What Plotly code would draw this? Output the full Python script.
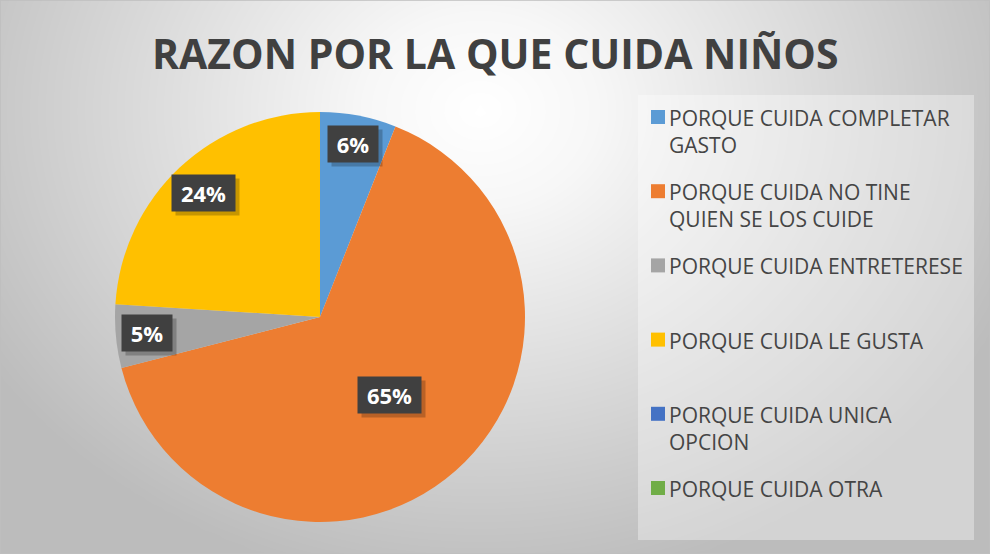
import numpy as np
import plotly.graph_objects as go

W, H = 990, 554

# ---- data ----
labels = ["PORQUE CUIDA COMPLETAR GASTO", "PORQUE CUIDA NO TINE QUIEN SE LOS CUIDE",
          "PORQUE CUIDA ENTRETERESE", "PORQUE CUIDA LE GUSTA",
          "PORQUE CUIDA UNICA OPCION", "PORQUE CUIDA OTRA"]
legend_text = ["PORQUE CUIDA COMPLETAR<br>GASTO", "PORQUE CUIDA NO TINE<br>QUIEN SE LOS CUIDE",
               "PORQUE CUIDA ENTRETERESE", "PORQUE CUIDA LE GUSTA",
               "PORQUE CUIDA UNICA<br>OPCION", "PORQUE CUIDA OTRA"]
values = [6, 65, 5, 24, 0, 0]
colors = ["#5B9BD5", "#ED7D31", "#A5A5A5", "#FFC000", "#4472C4", "#70AD47"]
title = "RAZON POR LA QUE CUIDA NIÑOS"

# ---- styling / layout parameters ----
cx, cy, R = 320, 317, 205          # pie centre / radius in pixels
label_r = [0.86, 0.51, 0.85, 0.83, 0.8, 0.8]   # radial position of data labels

dom_x = [(cx - R) / W, (cx + R) / W]
dom_y = [1 - (cy + R) / H, 1 - (cy - R) / H]

fig = go.Figure()

# background radial gradient
gx = np.linspace(0, W, 100)
gy = np.linspace(0, H, 60)
X, Y = np.meshgrid(gx, gy)
d = np.sqrt(((X - 480) / 580) ** 2 + ((Y - 110) / 480) ** 2)
d = np.clip(d, 0, 1)
fig.add_trace(go.Heatmap(x=gx, y=gy, z=d, zmin=0, zmax=1, zsmooth="best",
                         colorscale=[[0, "#ffffff"], [0.2, "#f7f7f7"], [1, "#bcbcbc"]],
                         showscale=False, hoverinfo="skip"))

fig.add_trace(go.Pie(labels=labels, values=values, sort=False, direction="clockwise",
                     rotation=0, marker=dict(colors=colors, line=dict(width=0)),
                     textinfo="none", showlegend=False, hoverinfo="label+percent",
                     domain=dict(x=dom_x, y=dom_y)))

annotations = []
shapes = []

# data labels positioned from the values
total = sum(values)
cum = 0
for v, fr in zip(values, label_r):
    if v > 0:
        mid = (cum + v / 2) / total * 2 * np.pi
        px = cx + fr * R * np.sin(mid)
        py = cy - fr * R * np.cos(mid)
        pct = round(v / total * 100)
        txt = f"{pct}%"
        bw = 13 * len(txt) + 24
        # shadow
        annotations.append(dict(
            x=(px + 4) / W, y=1 - (py + 4) / H, xref="paper", yref="paper", showarrow=False,
            text=" ", width=bw, height=36, bgcolor="rgba(0,0,0,0.22)", borderpad=0,
            xanchor="center", yanchor="middle"))
        annotations.append(dict(
            x=px / W, y=1 - py / H, xref="paper", yref="paper", showarrow=False,
            text=f"<b>{txt}</b>", font=dict(family="Open Sans", size=22, color="white"),
            width=bw, height=36, bgcolor="#404040", borderpad=0,
            xanchor="center", yanchor="middle", align="center", valign="middle"))
    cum += v

# title
annotations.append(dict(x=0.5, y=1 - 53 / H, xref="paper", yref="paper", showarrow=False,
                        text=f"<b>{title}</b>", xanchor="center", yanchor="middle",
                        font=dict(family="Open Sans", size=41, color="#404040")))

# legend box
lx0, lx1, ly0, ly1 = 638, 974, 95, 540
shapes.append(dict(type="rect", xref="paper", yref="paper",
                   x0=lx0 / W, x1=lx1 / W, y0=1 - ly1 / H, y1=1 - ly0 / H,
                   fillcolor="rgba(255,255,255,0.35)", line=dict(width=0), layer="above"))
row0, step = 117, 74.2
for i, (t, c) in enumerate(zip(legend_text, colors)):
    ry = row0 + i * step
    shapes.append(dict(type="rect", xref="paper", yref="paper",
                       x0=651 / W, x1=665 / W, y0=1 - (ry + 7) / H, y1=1 - (ry - 7) / H,
                       fillcolor=c, line=dict(width=0), layer="above"))
    annotations.append(dict(x=667 / W, y=1 - (ry - 15) / H, xref="paper", yref="paper",
                            showarrow=False, text=t, xanchor="left", yanchor="top", align="left",
                            font=dict(family="Open Sans", size=21, color="#454545")))

# outer border
shapes.append(dict(type="rect", xref="paper", yref="paper", x0=0, x1=1, y0=0, y1=1,
                   line=dict(color="#bfbfbf", width=1.5), fillcolor="rgba(0,0,0,0)"))

fig.update_layout(
    width=W, height=H, margin=dict(l=0, r=0, t=0, b=0),
    paper_bgcolor="#e0e0e0", plot_bgcolor="#e0e0e0",
    xaxis=dict(range=[0, W], domain=[0, 1], visible=False, fixedrange=True),
    yaxis=dict(range=[H, 0], domain=[0, 1], visible=False, fixedrange=True),
    annotations=annotations, shapes=shapes, showlegend=False,
)

fig.write_html("out.html", config={"displayModeBar": False},
               post_script="document.body.style.margin='0';document.body.style.overflow='hidden';")
